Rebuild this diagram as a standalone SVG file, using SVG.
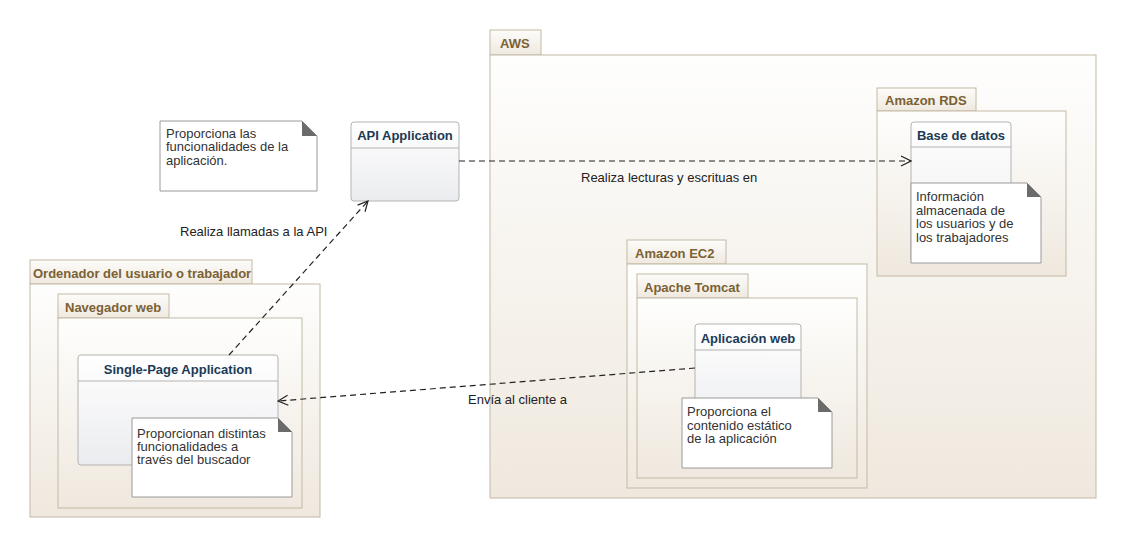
<svg xmlns="http://www.w3.org/2000/svg" width="1125" height="548" viewBox="0 0 1125 548">
<defs>
<linearGradient id="gBody" x1="0" y1="0" x2="0" y2="1"><stop offset="0" stop-color="#fefefd"/><stop offset="1" stop-color="#efe8de"/></linearGradient>
<linearGradient id="gTab" x1="0" y1="0" x2="0" y2="1"><stop offset="0" stop-color="#fdfcfa"/><stop offset="1" stop-color="#efe9df"/></linearGradient>
<linearGradient id="gComp" x1="0" y1="0" x2="0" y2="1"><stop offset="0" stop-color="#ffffff"/><stop offset="1" stop-color="#ebecef"/></linearGradient>
<marker id="arr" viewBox="0 0 12 12" refX="11" refY="6" markerWidth="12" markerHeight="12" markerUnits="userSpaceOnUse" orient="auto"><path d="M1,1 L11,6 L1,11" fill="none" stroke="#222" stroke-width="1.2"/></marker>
</defs>
<style>
.body{fill:url(#gBody);stroke:#c4b9a6;stroke-width:1}
.tab{fill:url(#gTab);stroke:#c4b9a6;stroke-width:1}
.tabt{font-family:"Liberation Sans",Arial,sans-serif;font-size:13px;font-weight:bold;fill:#7b6134}
.comp{fill:url(#gComp);stroke:#b3b3b3;stroke-width:1}
.sep{stroke:#b3b3b3;stroke-width:1}
.compt{font-family:"Liberation Sans",Arial,sans-serif;font-size:13px;font-weight:bold;fill:#1b3a55;text-anchor:middle}
.note{fill:#ffffff;stroke:#9a9a9a;stroke-width:1}
.fold{fill:#6b6b6b}
.nt{font-family:"Liberation Sans",Arial,sans-serif;font-size:13px;fill:#333}
.lbl{font-family:"Liberation Sans",Arial,sans-serif;font-size:13px;fill:#222}
.con{fill:none;stroke:#222;stroke-width:1.2;stroke-dasharray:6,4;marker-end:url(#arr)}
</style>
<rect width="1125" height="548" fill="#ffffff"/>

<g id="aws">
<rect class="tab" x="490" y="30" width="51" height="25"/>
<rect class="body" x="490" y="55" width="606" height="443"/>
<text class="tabt" x="500" y="48">AWS</text>
</g>

<g id="amazon-rds">
<rect class="tab" x="877" y="88" width="99" height="23"/>
<rect class="body" x="877" y="111" width="189" height="165"/>
<text class="tabt" x="885" y="105">Amazon RDS</text>
</g>

<g id="base-de-datos">
<rect class="comp" x="911" y="122" width="100" height="140" rx="3"/>
<line class="sep" x1="911" y1="147" x2="1011" y2="147"/>
<text class="compt" x="961" y="140">Base de datos</text>
</g>

<g id="nota-bd">
<path class="note" d="M911,183 H1027 L1041,197 V263 H911 Z"/>
<path class="fold" d="M1027,183 L1041,197 H1027 Z"/>
<text class="nt" x="916" y="201">Información</text>
<text class="nt" x="916" y="215">almacenada de</text>
<text class="nt" x="916" y="228">los usuarios y de</text>
<text class="nt" x="916" y="242">los trabajadores</text>
</g>

<g id="amazon-ec2">
<rect class="tab" x="627" y="240" width="99" height="24"/>
<rect class="body" x="627" y="264" width="240" height="224"/>
<text class="tabt" x="635" y="258">Amazon EC2</text>
</g>

<g id="apache-tomcat">
<rect class="tab" x="637" y="274" width="111" height="24"/>
<rect class="body" x="637" y="298" width="220" height="180"/>
<text class="tabt" x="644" y="292">Apache Tomcat</text>
</g>

<g id="aplicacion-web">
<rect class="comp" x="695" y="324" width="106" height="110" rx="3"/>
<line class="sep" x1="695" y1="350" x2="801" y2="350"/>
<text class="compt" x="748" y="343">Aplicación web</text>
</g>

<g id="nota-web">
<path class="note" d="M682,398 H818 L832,412 V468 H682 Z"/>
<path class="fold" d="M818,398 L832,412 H818 Z"/>
<text class="nt" x="687" y="416">Proporciona el</text>
<text class="nt" x="687" y="430">contenido estático</text>
<text class="nt" x="687" y="443">de la aplicación</text>
</g>

<g id="ordenador">
<rect class="tab" x="30" y="260" width="222" height="24"/>
<rect class="body" x="30" y="284" width="290" height="233"/>
<text class="tabt" x="33" y="278">Ordenador del usuario o trabajador</text>
</g>

<g id="navegador-web">
<rect class="tab" x="58" y="294" width="111" height="24"/>
<rect class="body" x="58" y="318" width="244" height="190"/>
<text class="tabt" x="65" y="312">Navegador web</text>
</g>

<g id="single-page-application">
<rect class="comp" x="78" y="355" width="200" height="110" rx="3"/>
<line class="sep" x1="78" y1="381" x2="278" y2="381"/>
<text class="compt" x="178" y="374">Single-Page Application</text>
</g>

<g id="nota-spa">
<path class="note" d="M132,418 H278 L292,432 V497 H132 Z"/>
<path class="fold" d="M278,418 L292,432 H278 Z"/>
<text class="nt" x="137" y="438">Proporcionan distintas</text>
<text class="nt" x="137" y="451">funcionalidades a</text>
<text class="nt" x="137" y="464">través del buscador</text>
</g>

<g id="nota-api">
<path class="note" d="M160,121 H302 L317,136 V191 H160 Z"/>
<path class="fold" d="M302,121 L317,136 H302 Z"/>
<text class="nt" x="166" y="138">Proporciona las</text>
<text class="nt" x="166" y="151">funcionalidades de la</text>
<text class="nt" x="166" y="165">aplicación.</text>
</g>

<g id="api-application">
<rect class="comp" x="351" y="122" width="108" height="79" rx="3"/>
<line class="sep" x1="351" y1="148" x2="459" y2="148"/>
<text class="compt" x="405" y="140">API Application</text>
</g>

<g id="connectors">
<path class="con" d="M459,161 L911,161"/>
<text class="lbl" x="581" y="182">Realiza lecturas y escrituas en</text>
<path class="con" d="M229,355 L368,201"/>
<text class="lbl" x="180" y="236">Realiza llamadas a la API</text>
<path class="con" d="M695,368 L278,401"/>
<text class="lbl" x="468" y="404">Envía al cliente a</text>
</g>
</svg>
